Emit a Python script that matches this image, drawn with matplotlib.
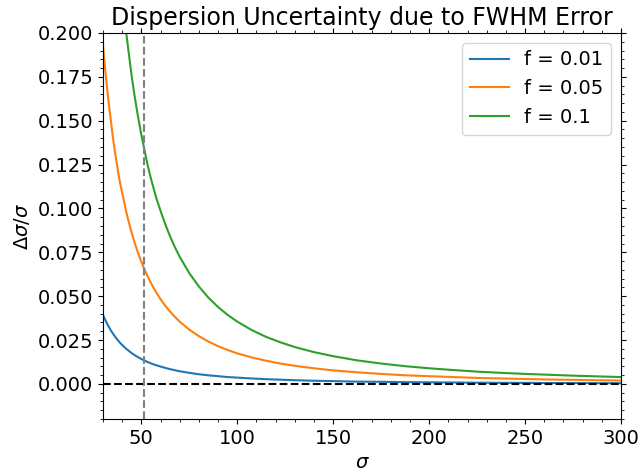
import matplotlib
matplotlib.use('Agg')
import matplotlib.pyplot as plt

# sigma grid and Δσ/σ for each f
sigma = [30, 31, 32, 33, 34, 35, 36, 37, 38, 39, 40, 41, 42, 43.5, 45, 46.5,
         48, 50, 51.5, 53, 55, 57.5, 60, 62.5, 65, 67.5, 70, 75, 80, 85, 90,
         95, 100, 107.5, 115, 122.5, 130, 140, 150, 162.5, 175, 187.5, 200,
         212.5, 225, 237.5, 250, 262.5, 275, 287.5, 300]
f001 = [0.0394, 0.0369, 0.0347, 0.0326, 0.0307, 0.0290, 0.0274, 0.0259, 0.0246,
        0.0233, 0.0222, 0.0211, 0.0201, 0.0188, 0.0175, 0.0164, 0.0154, 0.0142,
        0.0134, 0.0126, 0.0117, 0.0107, 0.0099, 0.0091, 0.0084, 0.0078, 0.0072,
        0.0063, 0.0055, 0.0049, 0.0044, 0.0039, 0.0036, 0.0031, 0.0027, 0.0024,
        0.0021, 0.0018, 0.0016, 0.0013, 0.0012, 0.0010, 0.0009, 0.0008, 0.0007,
        0.0006, 0.0006, 0.0005, 0.0005, 0.0004, 0.0004]
f005 = [0.193, 0.181, 0.170, 0.160, 0.151, 0.142, 0.134, 0.127, 0.120, 0.114,
        0.109, 0.104, 0.0986, 0.0920, 0.0859, 0.0805, 0.0755, 0.0696, 0.0656,
        0.0619, 0.0575, 0.0526, 0.0483, 0.0445, 0.0412, 0.0382, 0.0355, 0.0309,
        0.0272, 0.0241, 0.0215, 0.0193, 0.0174, 0.0151, 0.0132, 0.0116, 0.0103,
        0.0089, 0.0077, 0.0066, 0.0057, 0.0049, 0.0044, 0.0039, 0.0034, 0.0031,
        0.0028, 0.0025, 0.0023, 0.0021, 0.0019]
f01 = [0.394, 0.369, 0.347, 0.326, 0.307, 0.290, 0.274, 0.259, 0.246, 0.233,
       0.222, 0.211, 0.201, 0.188, 0.175, 0.164, 0.154, 0.142, 0.134, 0.126,
       0.117, 0.107, 0.0986, 0.0909, 0.0840, 0.0779, 0.0724, 0.0631, 0.0555,
       0.0491, 0.0438, 0.0393, 0.0355, 0.0307, 0.0268, 0.0237, 0.0210, 0.0181,
       0.0158, 0.0134, 0.0116, 0.0101, 0.0089, 0.0079, 0.0070, 0.0063, 0.0057,
       0.0052, 0.0047, 0.0043, 0.0039]
labels = ['f = 0.01', 'f = 0.05', 'f = 0.1']
sigma_mark = 51.5

fig, ax = plt.subplots(figsize=(6.42, 4.72), dpi=100)
fig.subplots_adjust(left=0.1604, right=0.9673, top=0.9301, bottom=0.1123)

for ys, lab in zip([f001, f005, f01], labels):
    ax.plot(sigma, ys, linewidth=1.5, label=lab)

ax.axhline(0, color='black', linestyle='--', linewidth=1.5)
ax.axvline(sigma_mark, color='gray', linestyle='--', linewidth=1.5)

ax.set_xlim(30, 300)
ax.set_ylim(-0.02, 0.2)
ax.set_xlabel(r'$\sigma$', fontsize=14)
ax.set_ylabel(r'$\Delta\sigma/\sigma$', fontsize=14)
ax.set_title('Dispersion Uncertainty due to FWHM Error', fontsize=17)

ax.minorticks_on()
ax.tick_params(which='both', top=True, right=True, labelsize=14)
ax.legend(loc='upper right', fontsize=14)

plt.savefig('out.png', dpi=100)
